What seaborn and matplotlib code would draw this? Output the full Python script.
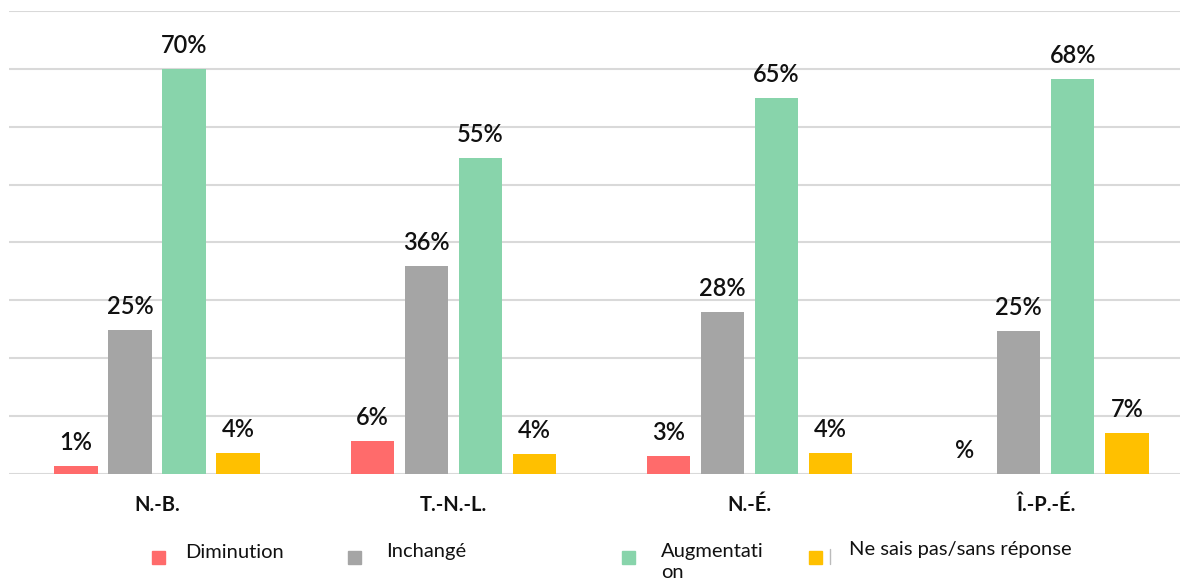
import numpy as np
import pandas as pd
import matplotlib
matplotlib.use("Agg")
import matplotlib.pyplot as plt
from matplotlib.patches import Rectangle
from matplotlib.lines import Line2D
import seaborn as sns

provinces = ["N.-B.", "T.-N.-L.", "N.-É.", "Î.-P.-É."]
series = ["Diminution", "Inchangé", "Augmentation", "Ne sais pas/sans réponse"]
legend_labels = ["Diminution", "Inchangé", "Augmentati\non", "Ne sais pas/sans réponse"]
diminution = [1.4, 5.7, 3.1, 0.0]
inchange = [24.9, 36.0, 28.0, 24.7]
augmentation = [70.0, 54.6, 65.0, 68.2]
nsp = [3.7, 3.5, 3.6, 7.1]
labels_dim = ["1%", "6%", "3%", "%"]
labels_inch = ["25%", "36%", "28%", "25%"]
labels_aug = ["70%", "55%", "65%", "68%"]
labels_nsp = ["4%", "4%", "4%", "7%"]
colors = ["#FF6B6B", "#A5A5A5", "#88D4AB", "#FFC000"]

values = [diminution, inchange, augmentation, nsp]
labels = [labels_dim, labels_inch, labels_aug, labels_nsp]

rows = []
for s, vals in zip(series, values):
    for p, v in zip(provinces, vals):
        rows.append({"Province": p, "Réponse": s, "Valeur": v})
df = pd.DataFrame(rows)

sns.set_theme(style="white")
plt.rcParams["font.family"] = ["Lato", "DejaVu Sans"]

fig = plt.figure(figsize=(11.8, 5.83), dpi=100)
ax = fig.add_axes([9 / 1180, 109 / 583, 1171 / 1180, 463 / 583])

sns.barplot(data=df, x="Province", y="Valeur", hue="Réponse", order=provinces,
            hue_order=series, palette=colors, width=0.73, gap=0.2,
            saturation=1, legend=False, linewidth=0, ax=ax)

ax.set_ylim(0, 80)
ax.set_xlim(-0.4995, 3.453)
ax.set_yticks(np.arange(0, 81, 10))
ax.set_yticklabels([])
ax.yaxis.grid(True, color="#D9D9D9", linewidth=1.5)
ax.set_axisbelow(True)
for sp in ax.spines.values():
    sp.set_visible(False)
ax.set_xlabel("")
ax.set_ylabel("")
ax.tick_params(axis="x", length=0, pad=15)
ax.tick_params(axis="y", length=0)
for t in ax.get_xticklabels():
    t.set_fontsize(14.5)
    t.set_fontweight("bold")
    t.set_color("#111111")

for cont, labs in zip(ax.containers, labels):
    ax.bar_label(cont, labels=labs, padding=8.5, fontsize=17, fontweight="semibold",
                 color="#111111")

# legend drawn in figure coordinates
sq_x = [152, 348, 622, 809]
tx_x = [185, 386, 661, 849]
tx_y = [552, 552, 551, 550]
for c, lab, sx, tx, ty in zip(colors, legend_labels, sq_x, tx_x, tx_y):
    fig.patches.append(Rectangle((sx / 1180, (583 - 564) / 583), 13 / 1180, 13 / 583,
                                 transform=fig.transFigure, color=c))
    if "\n" in lab:
        first, second = lab.split("\n")
        fig.text(tx / 1180, 1 - ty / 583, first, fontsize=14.5, va="center", ha="left",
                 color="#111111")
        fig.text(tx / 1180, 1 - (ty + 22) / 583, second, fontsize=14.5, va="center",
                 ha="left", color="#111111")
    else:
        fig.text(tx / 1180, 1 - ty / 583, lab, fontsize=14.5, va="center", ha="left",
                 color="#111111")
fig.lines.append(Line2D([829.5 / 1180, 829.5 / 1180], [1 - 564 / 583, 1 - 549 / 583],
                        transform=fig.transFigure, color="#BBBBBB", linewidth=1))

fig.savefig("out.png", dpi=100)
